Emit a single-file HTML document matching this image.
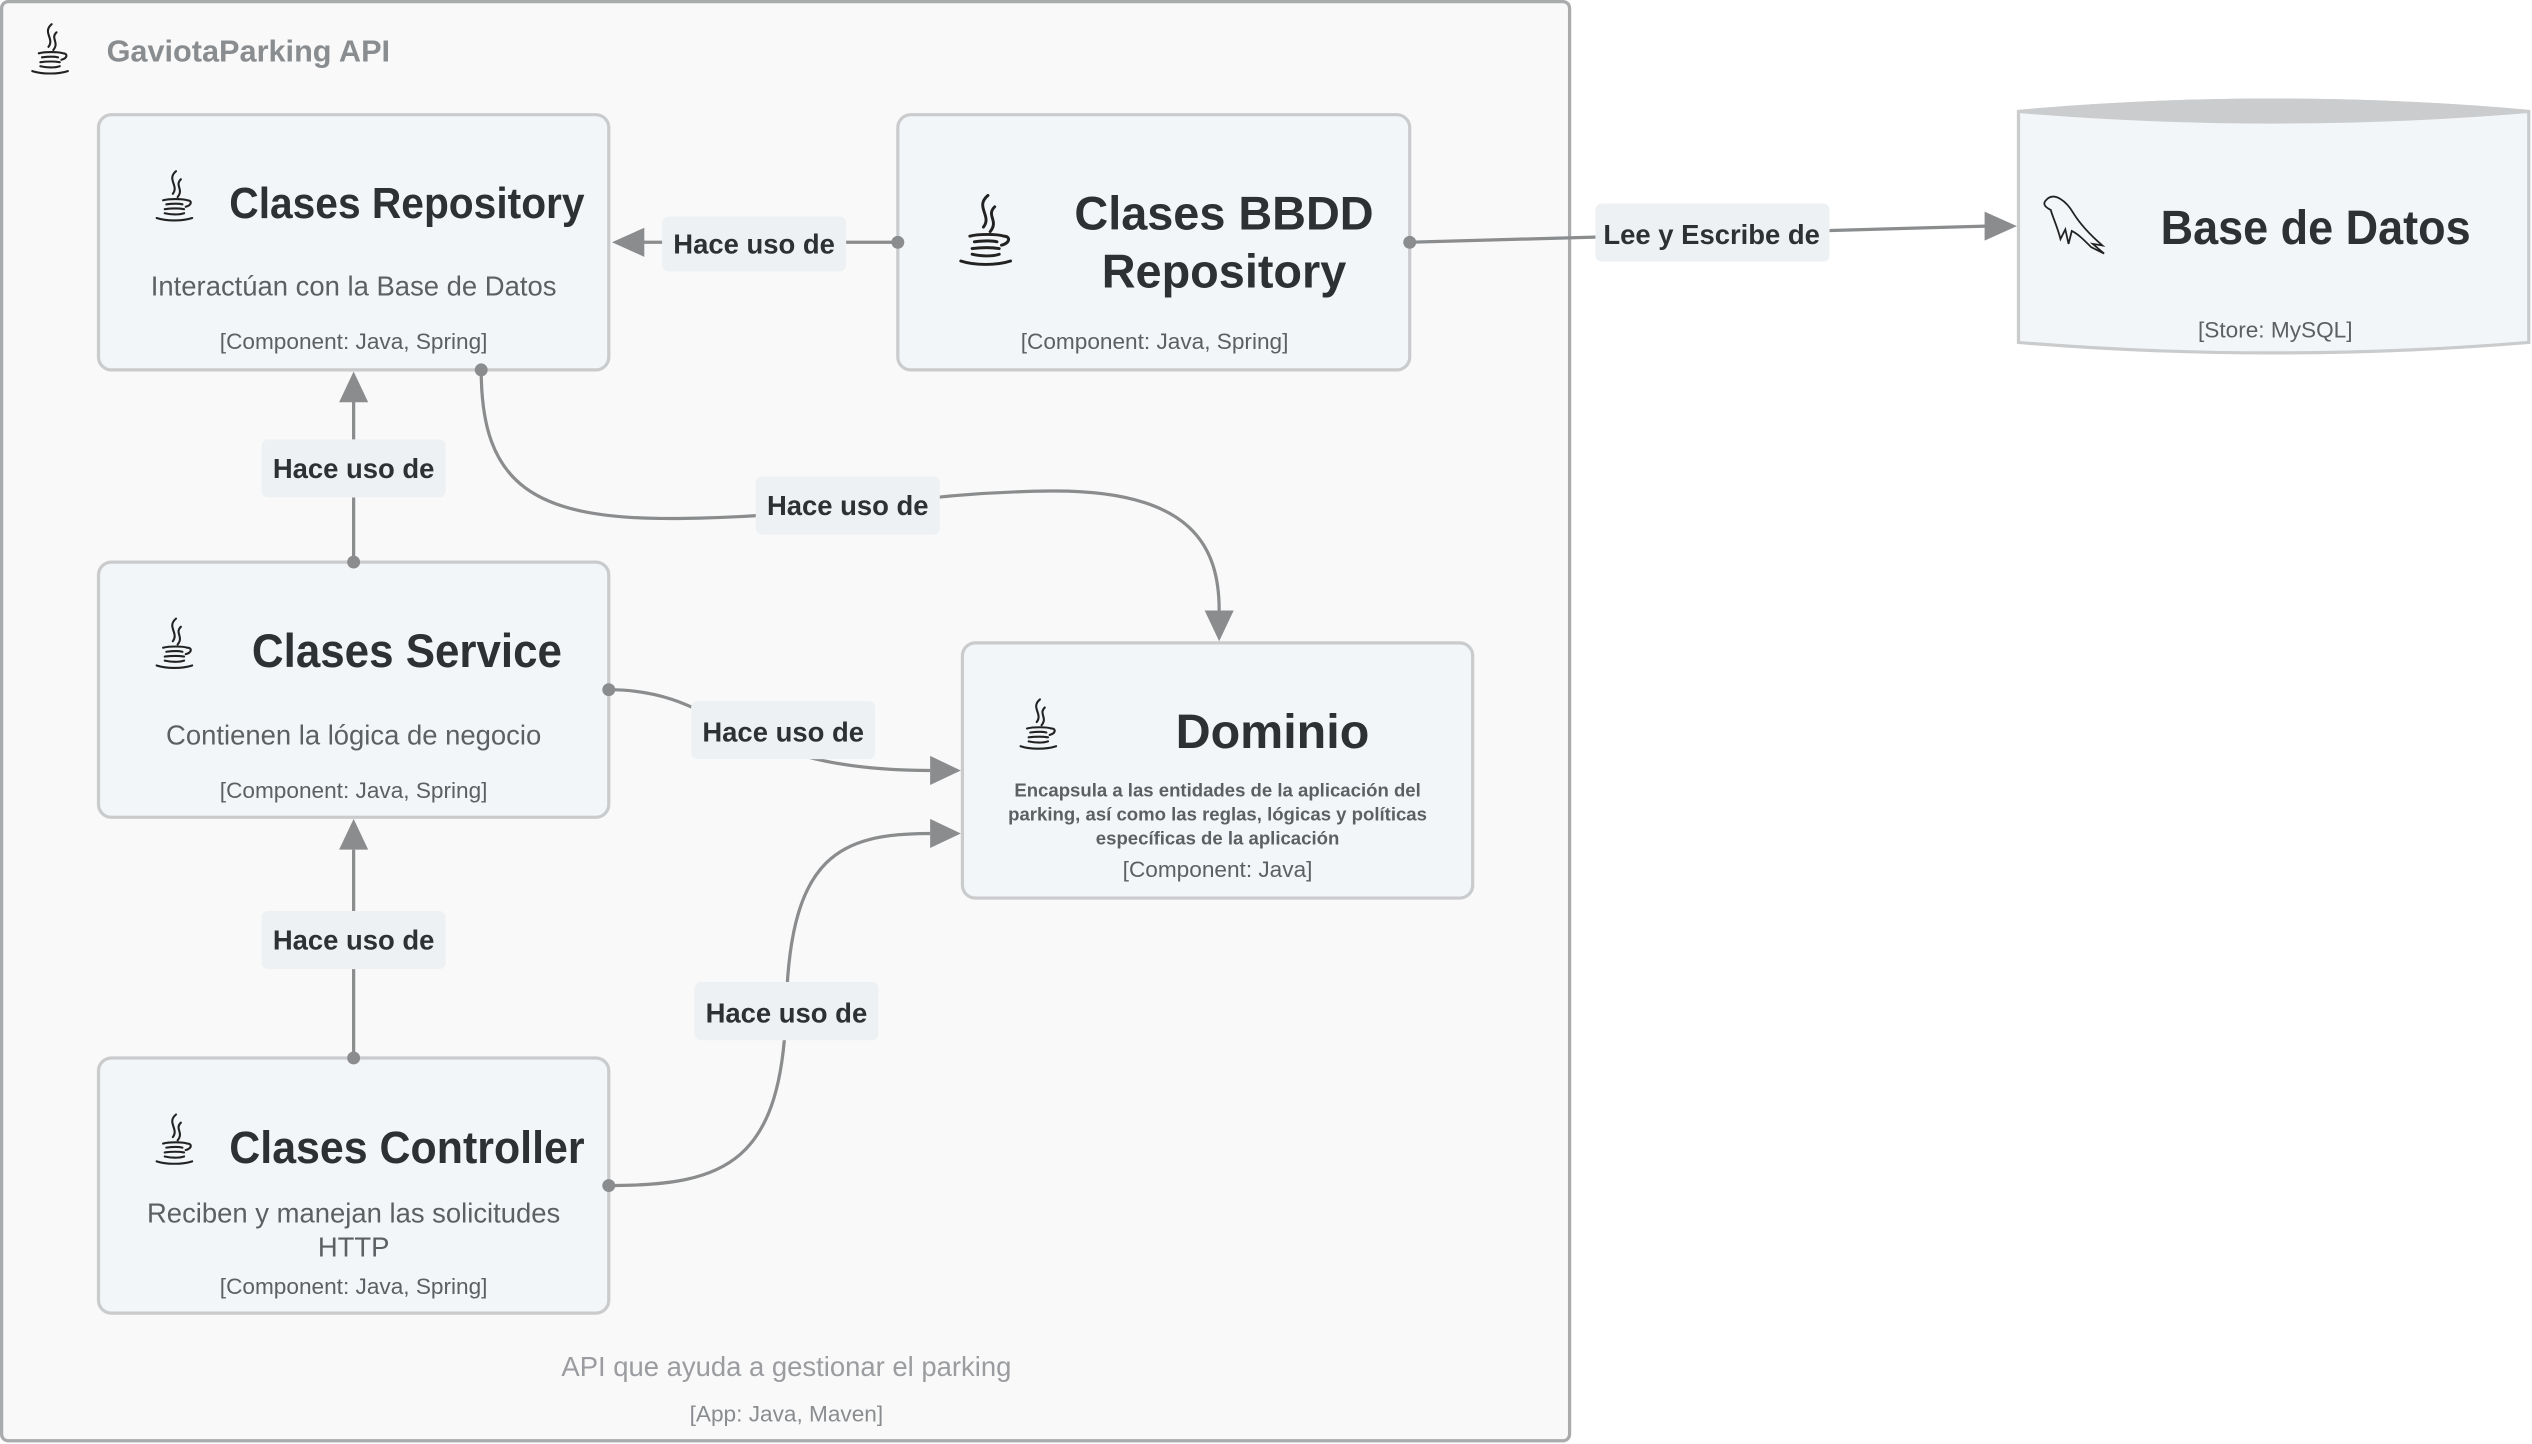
<!DOCTYPE html>
<html><head><meta charset="utf-8"><style>
html,body{margin:0;padding:0;background:#fff;}
svg{display:block;}
text{font-family:"Liberation Sans",sans-serif;}
</style></head><body>
<svg width="2532" height="1444" viewBox="0 0 1568 894" preserveAspectRatio="none" xmlns="http://www.w3.org/2000/svg">
<defs>
<g id="java" fill="none" stroke="#222" stroke-width="1.3" stroke-linecap="round">
<path d="M12,0 C6,5 14,9 10,14 M15,5 C11,9 17,11 13,16"/>
<path d="M4,18 C8,17 16,17 19,18 C22,18 22,21 18,22"/>
<path d="M6,20.5 C10,20 14,20 16,20.5"/>
<path d="M5,23.5 C9,23 14,23 17,23.5"/>
<path d="M5,26 C9,27 14,27 17,26"/>
<path d="M0,29 C6,31 16,31 22,29"/>
</g>
<marker id="ah" markerWidth="10" markerHeight="10" refX="9" refY="5" orient="auto" markerUnits="userSpaceOnUse" viewBox="0 0 10 10">
</marker>
</defs>
<rect x="0" y="0" width="1568" height="894" fill="#fff"/>
<rect x="1" y="1" width="971" height="891" rx="4" fill="#f9f9f9" stroke="#a9abad" stroke-width="2"/>
<use href="#java" x="20" y="15"/>
<text x="66" y="38" font-size="19" font-weight="bold" fill="#8a8d90">GaviotaParking API</text>

<!-- nodes -->
<g fill="#f3f6f8" stroke="#cacbcd" stroke-width="2">
<rect x="61" y="71" width="316" height="158" rx="8"/>
<rect x="556" y="71" width="317" height="158" rx="8"/>
<rect x="61" y="348" width="316" height="158" rx="8"/>
<rect x="61" y="655" width="316" height="158" rx="8"/>
<rect x="596" y="398" width="316" height="158" rx="8"/>
</g>
<!-- DB cylinder -->
<path d="M1250,69 Q1408,55 1566,69 L1566,212 Q1408,225 1250,212 Z" fill="#f3f6f8" stroke="#cacbcd" stroke-width="2"/>
<path d="M1250,69 Q1408,55 1566,69 Q1408,82 1250,69 Z" fill="#cbcccd" stroke="#cbcccd" stroke-width="2"/>

<!-- icons -->
<use href="#java" x="97" y="106"/>
<g transform="translate(595,121) scale(1.4)"><use href="#java"/></g>
<use href="#java" x="97" y="383"/>
<use href="#java" x="97" y="690"/>
<use href="#java" x="632" y="433"/>
<path d="M1267,124 C1272,118 1280,125 1284,132 C1289,140 1295,146 1302,152 L1296,151 L1303,157 L1295,153 C1290,148 1287,145 1283,143 L1281,151 L1279,142 L1276,148 C1274,140 1271,134 1270,130 C1266,128 1265,126 1267,124 Z" fill="none" stroke="#222" stroke-width="1.1"/>

<!-- node text -->
<g fill="#2d3134" font-weight="bold" text-anchor="middle">
<text x="252" y="135" font-size="27" textLength="220" lengthAdjust="spacingAndGlyphs">Clases Repository</text>
<text x="758" y="142" font-size="29">Clases BBDD</text>
<text x="758" y="178" font-size="29">Repository</text>
<text x="252" y="413" font-size="29" textLength="192" lengthAdjust="spacingAndGlyphs">Clases Service</text>
<text x="252" y="720" font-size="28" textLength="220" lengthAdjust="spacingAndGlyphs">Clases Controller</text>
<text x="788" y="463" font-size="30">Dominio</text>
<text x="1434" y="151" font-size="30" textLength="192" lengthAdjust="spacingAndGlyphs">Base de Datos</text>
</g>
<g fill="#5c6063" text-anchor="middle">
<text x="219" y="183" font-size="17">Interactúan con la Base de Datos</text>
<text x="219" y="216" font-size="14">[Component: Java, Spring]</text>
<text x="715" y="216" font-size="14">[Component: Java, Spring]</text>
<text x="219" y="461" font-size="17">Contienen la lógica de negocio</text>
<text x="219" y="494" font-size="14">[Component: Java, Spring]</text>
<text x="219" y="757" font-size="17">Reciben y manejan las solicitudes</text>
<text x="219" y="778" font-size="17">HTTP</text>
<text x="219" y="801" font-size="14">[Component: Java, Spring]</text>
<g font-size="11.5" font-weight="bold">
<text x="754" y="493">Encapsula a las entidades de la aplicación del</text>
<text x="754" y="508">parking, así como las reglas, lógicas y políticas</text>
<text x="754" y="523">específicas de la aplicación</text>
</g>
<text x="754" y="543" font-size="14">[Component: Java]</text>
<text x="1409" y="209" font-size="14">[Store: MySQL]</text>
</g>

<!-- edges -->
<g fill="none" stroke="#8a8c8e" stroke-width="2">
<path d="M556,150 L398,150"/>
<path d="M873,150 L1230,140"/>
<path d="M219,348 L219,248"/>
<path d="M219,655 L219,526"/>
<path d="M298,229 C298,300 330,322 420,321 C520,320 560,305 650,304 C740,303 755,340 755,378"/>
<path d="M377,427 C450,427 450,477 576,477"/>
<path d="M377,734 C450,734 485,720 487,620 C490,530 520,516 576,516"/>
</g>
<g fill="#8a8c8e">
<circle cx="556" cy="150" r="4"/>
<circle cx="873" cy="150" r="4"/>
<circle cx="219" cy="348" r="4"/>
<circle cx="219" cy="655" r="4"/>
<circle cx="298" cy="229" r="4"/>
<circle cx="377" cy="427" r="4"/>
<circle cx="377" cy="734" r="4"/>
<polygon points="379,150 399,141 399,159"/>
<polygon points="1249,140 1229,131 1229,149"/>
<polygon points="219,230 210,249 228,249"/>
<polygon points="219,507 210,526 228,526"/>
<polygon points="755,397 746,378 764,378"/>
<polygon points="595,477 576,468 576,486"/>
<polygon points="595,516 576,507 576,525"/>
</g>

<!-- edge labels -->
<g fill="#eef1f3">
<rect x="410" y="134" width="114" height="34" rx="4"/>
<rect x="988" y="126" width="145" height="36" rx="4"/>
<rect x="162" y="272" width="114" height="36" rx="4"/>
<rect x="162" y="564" width="114" height="36" rx="4"/>
<rect x="468" y="295" width="114" height="36" rx="4"/>
<rect x="428" y="434" width="114" height="36" rx="4"/>
<rect x="430" y="608" width="114" height="36" rx="4"/>
</g>
<g fill="#2d3134" font-size="17" font-weight="bold" text-anchor="middle">
<text x="467" y="157">Hace uso de</text>
<text x="1060" y="151">Lee y Escribe de</text>
<text x="219" y="296">Hace uso de</text>
<text x="219" y="588">Hace uso de</text>
<text x="525" y="319">Hace uso de</text>
<text x="485" y="459">Hace uso de</text>
<text x="487" y="633">Hace uso de</text>
</g>

<text x="487" y="852" font-size="17" fill="#9a9c9f" text-anchor="middle">API que ayuda a gestionar el parking</text>
<text x="487" y="880" font-size="14" fill="#8a8d90" text-anchor="middle">[App: Java, Maven]</text>
</svg>
</body></html>
